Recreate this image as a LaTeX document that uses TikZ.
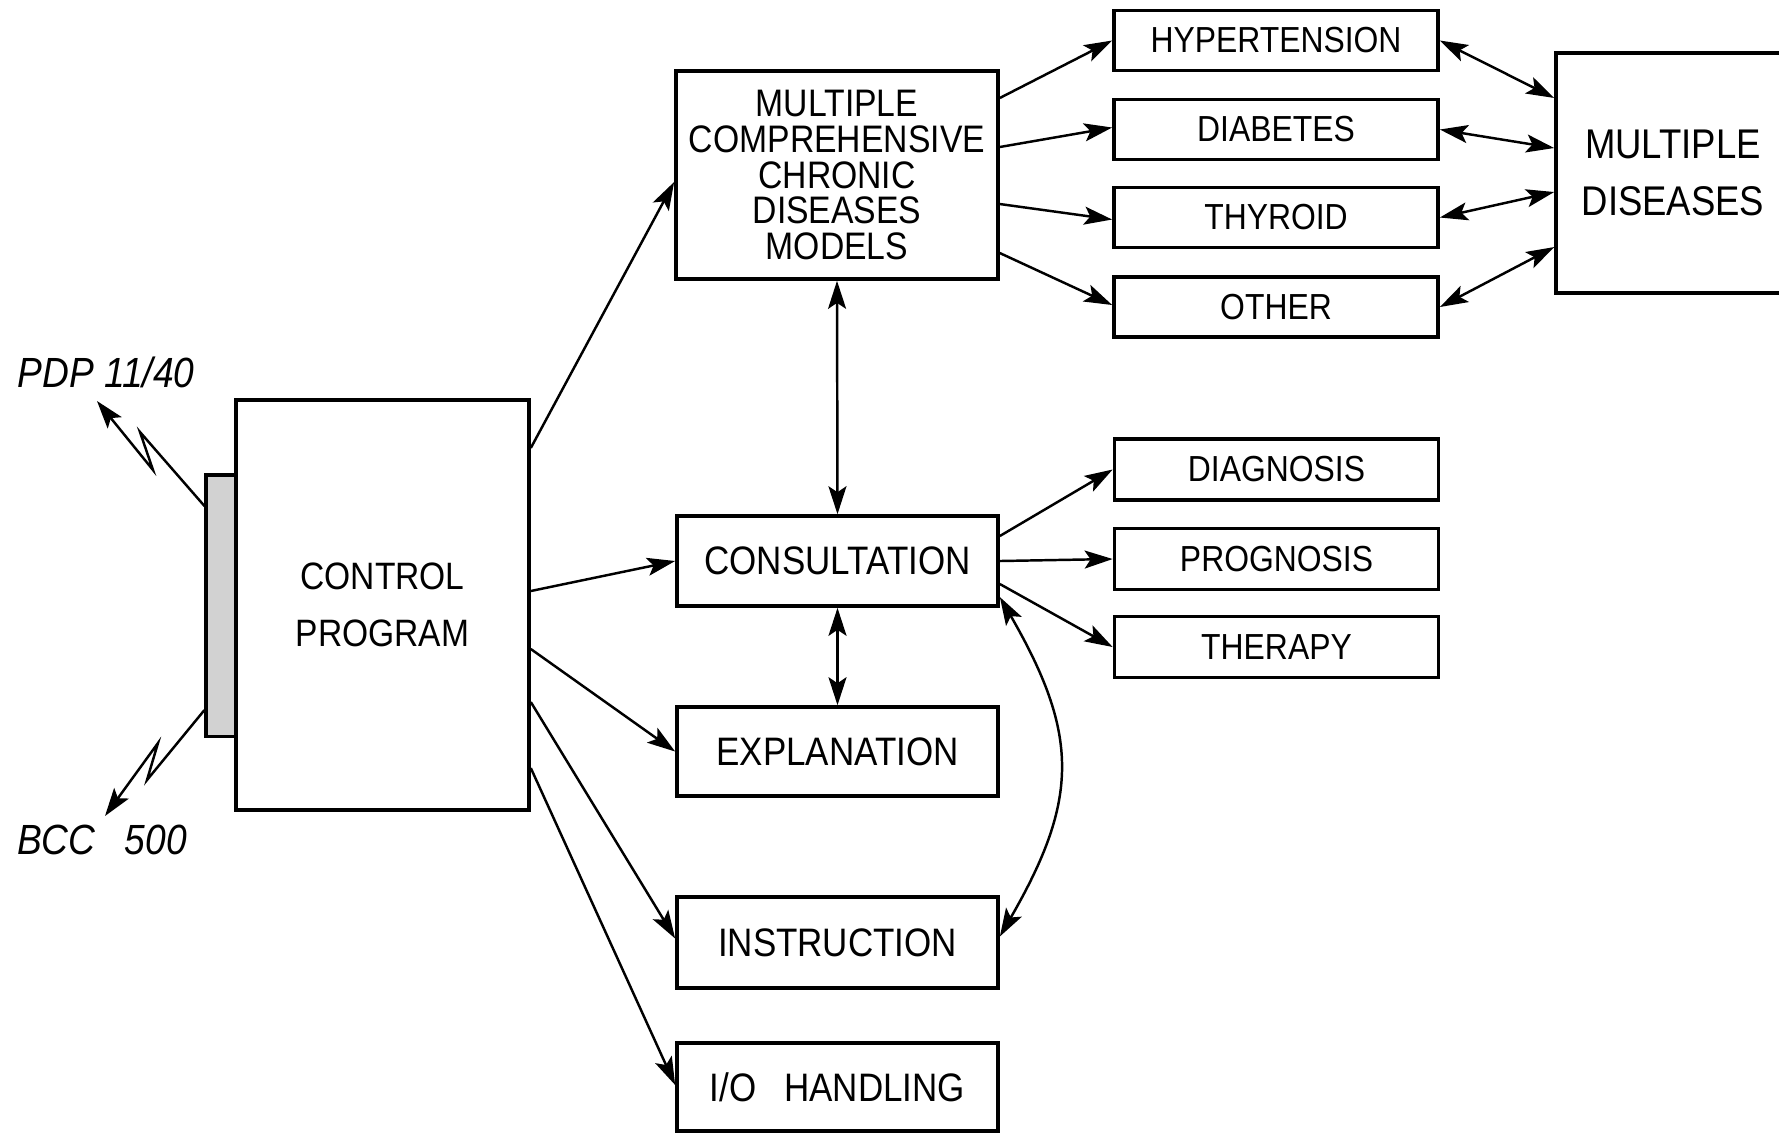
\documentclass[tikz,border=0pt]{standalone}
\usepackage{fontspec}
\setmainfont{Liberation Sans}[FakeStretch=0.88]
\usetikzlibrary{arrows.meta}
\begin{document}
\begin{tikzpicture}[x=0.01cm,y=-0.01cm,
  box/.style={draw,line width=1pt,align=center,inner sep=0pt,font=\fontsize{10.7}{10.2}\selectfont},
  sbox/.style={box,minimum width=3.24cm,minimum height=0.6cm,font=\fontsize{10.3}{12}\selectfont},
  mbox/.style={box,minimum width=3.21cm,minimum height=0.9cm,font=\fontsize{11.3}{12}\selectfont},
  link/.style={line width=0.7pt,-{Stealth[length=2.8mm,width=1.8mm,inset=0.6mm]}},
  both/.style={line width=0.7pt,{Stealth[length=2.8mm,width=1.8mm,inset=0.6mm]}-{Stealth[length=2.8mm,width=1.8mm,inset=0.6mm]}}]
\useasboundingbox (0,0) rectangle (1779,1132);
\clip (0,0) rectangle (1779,1132);
% control program and its link strip
\node[draw,line width=0.9pt,fill=gray!35,minimum width=0.3cm,minimum height=2.61cm,inner sep=0pt] (strip) at (221,605.5) {};
\node[box,minimum width=2.93cm,minimum height=4.1cm,font=\fontsize{10.85}{16.2}\selectfont] (ctrl) at (382.5,605) {CONTROL\\PROGRAM};
\node[font=\itshape\fontsize{12}{14}\selectfont] (pdp) at (106,372) {PDP 11/40};
\node[font=\itshape\fontsize{12}{14}\selectfont] (bcc) at (102,840) {BCC\hspace{0.7em}500};
\coordinate (pdpa) at (140,432);
\coordinate (pdpb) at (153,470);
\coordinate (pdptip) at (97,401);
\coordinate (bcca) at (147,780);
\coordinate (bccb) at (158,743);
\coordinate (bcctip) at (105,816);
\draw[link] ([yshift=0.995cm]strip.west) -- (pdpa) -- (pdpb) -- (pdptip);
\draw[link] ([yshift=-1.045cm]strip.west) -- (bcca) -- (bccb) -- (bcctip);
% middle column
\node[box,minimum width=3.22cm,minimum height=2.08cm,font=\fontsize{10.9}{10.2}\selectfont] (models) at (837,175) {MULTIPLE\\COMPREHENSIVE\\CHRONIC\\DISEASES\\MODELS};
\node[mbox] (consult) at (837.5,561) {CONSULTATION};
\node[mbox,minimum height=0.89cm] (expl) at (837.5,751.5) {EXPLANATION};
\node[mbox,minimum height=0.91cm] (instr) at (837.5,942.5) {INSTRUCTION};
\node[mbox,minimum height=0.88cm] (io) at (837.5,1087) {I/O\hspace{0.7em}HANDLING};
% diseases
\node[sbox] (hyper) at (1276,40.5) {HYPERTENSION};
\node[sbox] (diab) at (1276,129.5) {DIABETES};
\node[sbox] (thyr) at (1276,217.5) {THYROID};
\node[sbox] (other) at (1276,307) {OTHER};
\node[box,minimum width=2.34cm,minimum height=2.4cm,font=\fontsize{11.8}{16}\selectfont] (multi) at (1673,173) {MULTIPLE\\DISEASES};
% consultation results
\node[sbox,minimum height=0.61cm] (diag) at (1276.5,469.5) {DIAGNOSIS};
\node[sbox,minimum height=0.61cm] (prog) at (1276.5,559) {PROGNOSIS};
\node[sbox,minimum height=0.61cm] (ther) at (1276.5,647) {THERAPY};
% arrows out of control program
\draw[link] ([yshift=1.57cm]ctrl.east) -- ([yshift=-0.07cm]models.west);
\draw[link] ([yshift=0.14cm]ctrl.east) -- (consult.west);
\draw[link] ([yshift=-0.44cm]ctrl.east) -- (expl.west);
\draw[link] ([yshift=-0.97cm]ctrl.east) -- ([yshift=0.04cm]instr.west);
\draw[link] ([yshift=-1.63cm]ctrl.east) -- ([yshift=0.02cm]io.west);
\draw[both] (models.south) -- (consult.north);
\draw[both] (consult.south) -- (expl.north);
\draw[both] ([yshift=-0.36cm]consult.east) to[out=-60,in=60,looseness=1.2] ([yshift=0.06cm]instr.east);
% models to diseases
\draw[link] ([yshift=0.77cm]models.east) -- (hyper.west);
\draw[link] ([yshift=0.28cm]models.east) -- ([yshift=0.02cm]diab.west);
\draw[link] ([yshift=-0.29cm]models.east) -- ([yshift=-0.02cm]thyr.west);
\draw[link] ([yshift=-0.78cm]models.east) -- ([yshift=0.02cm]other.west);
\draw[both] (hyper.east) -- ([yshift=0.75cm]multi.west);
\draw[both] (diab.east) -- ([yshift=0.25cm]multi.west);
\draw[both] (thyr.east) -- ([yshift=-0.19cm]multi.west);
\draw[both] (other.east) -- ([yshift=-0.74cm]multi.west);
% consultation to results
\draw[link] ([yshift=0.25cm]consult.east) -- (diag.west);
\draw[link] (consult.east) -- (prog.west);
\draw[link] ([yshift=-0.23cm]consult.east) -- (ther.west);
\end{tikzpicture}
\end{document}
